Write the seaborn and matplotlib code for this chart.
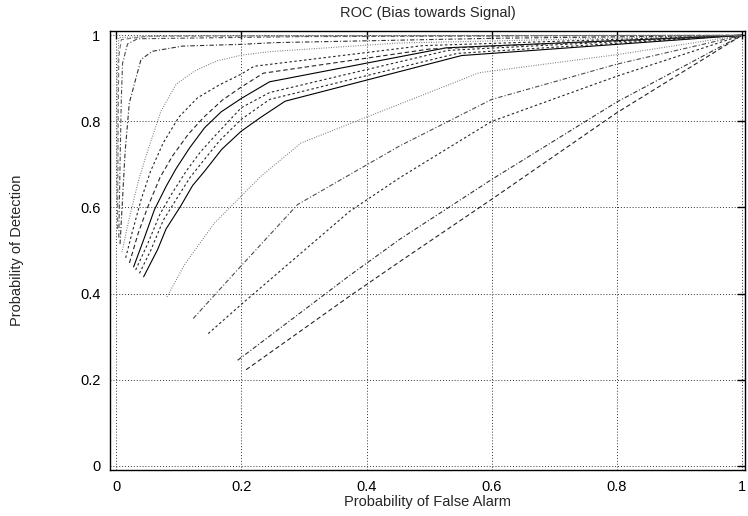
import matplotlib
matplotlib.use("Agg")
import matplotlib.pyplot as plt
import seaborn as sns

# ROC points (false alarm, detection), weakest curve first
pfa_c01 = [0.2075, 0.373, 0.453, 0.6, 0.8, 1.0]
pd_c01 = [0.223, 0.394, 0.474, 0.619, 0.82, 1.0]

pfa_c02 = [0.194, 0.373, 0.453, 0.6, 0.8, 1.0]
pd_c02 = [0.245, 0.442, 0.526, 0.665, 0.845, 1.0]

pfa_c03 = [0.147, 0.2, 0.373, 0.453, 0.6, 0.8, 1.0]
pd_c03 = [0.307, 0.375, 0.591, 0.669, 0.80, 0.905, 1.0]

pfa_c04 = [0.123, 0.2, 0.29, 0.453, 0.6, 0.8, 1.0]
pd_c04 = [0.342, 0.465, 0.607, 0.743, 0.851, 0.933, 1.0]

pfa_c05 = [0.081, 0.109, 0.157, 0.2315, 0.2955, 0.58, 0.8, 1.0]
pd_c05 = [0.392, 0.467, 0.564, 0.673, 0.75, 0.913, 0.955, 1.0]

pfa_c06 = [0.0437, 0.066, 0.0795, 0.1024, 0.122, 0.141, 0.1685, 0.1995, 0.2315, 0.27, 0.552, 1.0]
pd_c06 = [0.439, 0.502, 0.55, 0.602, 0.651, 0.684, 0.735, 0.777, 0.81, 0.847, 0.953, 1.0]

pfa_c07 = [0.037, 0.055, 0.075, 0.095, 0.118, 0.14, 0.165, 0.2, 0.245, 0.545, 1.0]
pd_c07 = [0.447, 0.50, 0.57, 0.617, 0.67, 0.71, 0.755, 0.805, 0.851, 0.958, 1.0]

pfa_c08 = [0.031, 0.05, 0.07, 0.09, 0.112, 0.135, 0.16, 0.2, 0.245, 0.53, 1.0]
pd_c08 = [0.455, 0.515, 0.585, 0.635, 0.685, 0.73, 0.77, 0.832, 0.867, 0.965, 1.0]

pfa_c09 = [0.0277, 0.045, 0.061, 0.08, 0.0955, 0.117, 0.141, 0.1675, 0.1995, 0.245, 0.5275, 1.0]
pd_c09 = [0.462, 0.53, 0.595, 0.65, 0.69, 0.738, 0.785, 0.822, 0.853, 0.892, 0.971, 1.0]

pfa_c10 = [0.021, 0.035, 0.05, 0.07, 0.09, 0.115, 0.14, 0.17, 0.2, 0.235, 0.5, 1.0]
pd_c10 = [0.471, 0.54, 0.60, 0.67, 0.72, 0.77, 0.81, 0.85, 0.88, 0.912, 0.968, 1.0]

pfa_c11 = [0.015, 0.025, 0.04, 0.055, 0.075, 0.1, 0.13, 0.165, 0.2, 0.22, 0.49, 1.0]
pd_c11 = [0.483, 0.54, 0.62, 0.685, 0.75, 0.81, 0.855, 0.885, 0.91, 0.928, 0.976, 1.0]

pfa_c12 = [0.009, 0.02, 0.035, 0.05, 0.0715, 0.0955, 0.125, 0.16, 0.2, 0.245, 0.45, 1.0]
pd_c12 = [0.496, 0.57, 0.66, 0.731, 0.824, 0.886, 0.917, 0.94, 0.954, 0.962, 0.982, 1.0]

pfa_c13 = [0.006, 0.01, 0.014, 0.0208, 0.0395, 0.058, 0.106, 0.2, 0.253, 0.6, 1.0]
pd_c13 = [0.515, 0.62, 0.727, 0.843, 0.944, 0.963, 0.975, 0.979, 0.983, 0.993, 1.0]

pfa_c14 = [0.004, 0.006, 0.008, 0.010, 0.018, 0.034, 0.3, 1.0]
pd_c14 = [0.53, 0.70, 0.85, 0.935, 0.98, 0.992, 0.997, 1.0]

pfa_c15 = [0.002, 0.003, 0.004, 0.008, 0.05, 1.0]
pd_c15 = [0.55, 0.80, 0.95, 0.99, 0.998, 1.0]

pfa_c16 = [0.001, 0.0015, 0.004, 0.1, 1.0]
pd_c16 = [0.60, 0.90, 0.995, 0.999, 1.0]

tick_vals = [0, 0.2, 0.4, 0.6, 0.8, 1]
tick_labels = ["0", "0.2", "0.4", "0.6", "0.8", "1"]

SOLID = "-"
DASH = (0, (4, 2.5))
SHORT = (0, (2.2, 2.2))
DOT = (0, (0.8, 1.4))
DASHDOT = (0, (4, 1.8, 1, 1.8))

curves = [
    (pfa_c01, pd_c01, "0.15", DASH),
    (pfa_c02, pd_c02, "0.2", DASHDOT),
    (pfa_c03, pd_c03, "0.15", SHORT),
    (pfa_c04, pd_c04, "0.3", DASHDOT),
    (pfa_c05, pd_c05, "0.45", DOT),
    (pfa_c06, pd_c06, "black", SOLID),
    (pfa_c07, pd_c07, "0.15", SHORT),
    (pfa_c08, pd_c08, "0.15", SHORT),
    (pfa_c09, pd_c09, "black", SOLID),
    (pfa_c10, pd_c10, "0.15", DASH),
    (pfa_c11, pd_c11, "0.15", SHORT),
    (pfa_c12, pd_c12, "0.45", DOT),
    (pfa_c13, pd_c13, "0.2", DASHDOT),
    (pfa_c14, pd_c14, "0.3", DASHDOT),
    (pfa_c15, pd_c15, "0.45", DASH),
    (pfa_c16, pd_c16, "0.45", DOT),
]

sns.set_theme(style="white")
plt.rcParams["font.family"] = ["Liberation Sans", "DejaVu Sans"]

fig = plt.figure(figsize=(7.48, 5.16), dpi=100)
ax = fig.add_axes([0.1471, 0.0891, 0.8489, 0.8508])

for x, y, col, ls in curves:
    sns.lineplot(x=x, y=y, ax=ax, color=col, linestyle=ls, linewidth=0.8,
                 sort=False, estimator=None)

ax.set_xlim(-0.01, 1.005)
ax.set_ylim(-0.01, 1.01)
ax.set_xticks(tick_vals)
ax.set_xticklabels(tick_labels)
ax.set_yticks(tick_vals)
ax.set_yticklabels(tick_labels)
ax.grid(True, linestyle=(0, (1, 2)), color="0.2", linewidth=0.7)
ax.tick_params(direction="in", length=6, width=1, top=True, right=True,
               labelsize=10.5, colors="black", pad=7)
for sp in ax.spines.values():
    sp.set_color("black")
    sp.set_linewidth(1)

ax.set_title("ROC (Bias towards Signal)", fontsize=10.5, pad=10)
ax.set_xlabel("Probability of False Alarm", fontsize=10.5, labelpad=1)
ax.set_ylabel("Probability of Detection", fontsize=10.5)
ax.yaxis.set_label_coords(-0.136, 0.5)

fig.savefig("out.png", dpi=100)
